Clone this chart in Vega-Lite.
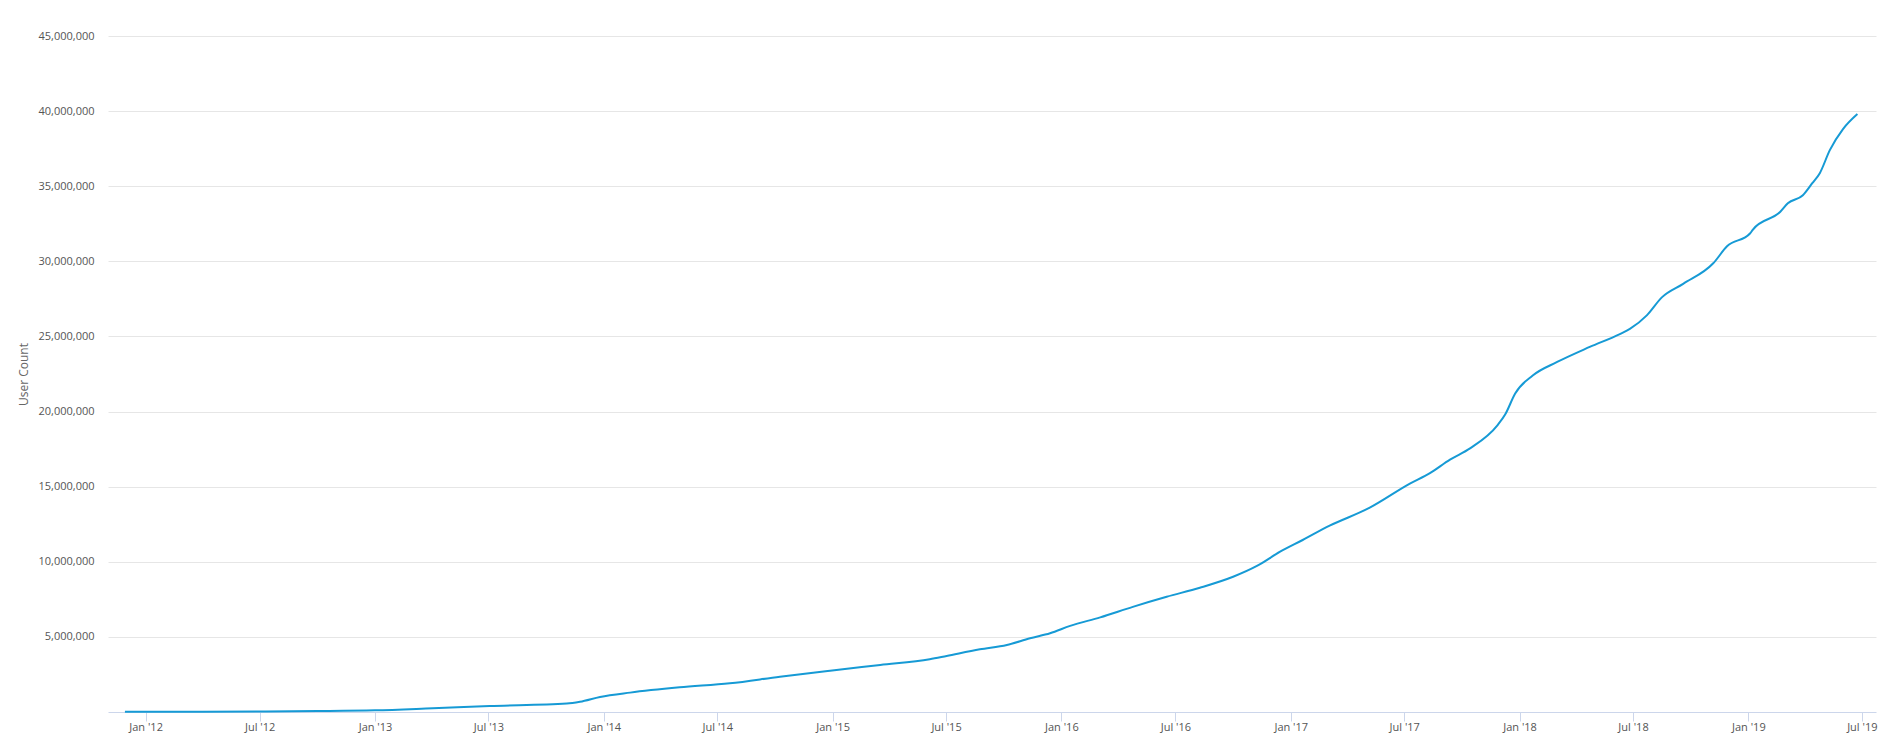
{
  "$schema": "https://vega.github.io/schema/vega-lite/v6.json",
  "autosize": {"type": "none"},
  "padding": {"left": 108, "top": 36, "right": 16, "bottom": 44},
  "width": 1768,
  "height": 676,
  "background": "#ffffff",
  "config": {"view": {"stroke": null}},
  "data": {
    "values": [
      {"date": "2011-11-29", "users": 10000},
      {"date": "2012-01-01", "users": 12000},
      {"date": "2012-04-01", "users": 20000},
      {"date": "2012-07-01", "users": 35000},
      {"date": "2012-10-01", "users": 60000},
      {"date": "2013-01-01", "users": 110000},
      {"date": "2013-04-03", "users": 250000},
      {"date": "2013-07-03", "users": 400000},
      {"date": "2013-11-03", "users": 560000},
      {"date": "2013-11-24", "users": 680000},
      {"date": "2013-12-26", "users": 1000000},
      {"date": "2014-02-12", "users": 1290000},
      {"date": "2014-05-02", "users": 1640000},
      {"date": "2014-07-21", "users": 1910000},
      {"date": "2014-10-09", "users": 2350000},
      {"date": "2014-12-28", "users": 2750000},
      {"date": "2015-03-18", "users": 3130000},
      {"date": "2015-06-05", "users": 3510000},
      {"date": "2015-07-02", "users": 3730000},
      {"date": "2015-08-24", "users": 4170000},
      {"date": "2015-10-06", "users": 4460000},
      {"date": "2015-11-12", "users": 4910000},
      {"date": "2015-12-14", "users": 5240000},
      {"date": "2016-01-15", "users": 5730000},
      {"date": "2016-03-03", "users": 6300000},
      {"date": "2016-04-24", "users": 7000000},
      {"date": "2016-06-17", "users": 7670000},
      {"date": "2016-08-09", "users": 8270000},
      {"date": "2016-10-01", "users": 9000000},
      {"date": "2016-11-08", "users": 9720000},
      {"date": "2016-12-15", "users": 10670000},
      {"date": "2017-01-20", "users": 11450000},
      {"date": "2017-03-04", "users": 12400000},
      {"date": "2017-05-07", "users": 13600000},
      {"date": "2017-07-10", "users": 15200000},
      {"date": "2017-08-11", "users": 15900000},
      {"date": "2017-09-12", "users": 16800000},
      {"date": "2017-10-14", "users": 17550000},
      {"date": "2017-11-27", "users": 19100000},
      {"date": "2017-12-09", "users": 19800000},
      {"date": "2017-12-25", "users": 21200000},
      {"date": "2018-01-22", "users": 22400000},
      {"date": "2018-03-02", "users": 23300000},
      {"date": "2018-04-23", "users": 24300000},
      {"date": "2018-06-10", "users": 25160000},
      {"date": "2018-06-26", "users": 25500000},
      {"date": "2018-07-23", "users": 26400000},
      {"date": "2018-08-16", "users": 27600000},
      {"date": "2018-09-19", "users": 28500000},
      {"date": "2018-11-06", "users": 29870000},
      {"date": "2018-11-28", "users": 31000000},
      {"date": "2019-01-04", "users": 31870000},
      {"date": "2019-01-08", "users": 32100000},
      {"date": "2019-02-21", "users": 33300000},
      {"date": "2019-03-05", "users": 33860000},
      {"date": "2019-03-29", "users": 34400000},
      {"date": "2019-04-13", "users": 35200000},
      {"date": "2019-04-25", "users": 35870000},
      {"date": "2019-05-11", "users": 37400000},
      {"date": "2019-06-01", "users": 38800000},
      {"date": "2019-06-24", "users": 39800000}
    ]
  },
  "mark": {"type": "line", "color": "#169ad5", "strokeWidth": 2, "interpolate": "monotone"},
  "encoding": {
    "x": {
      "field": "date",
      "type": "temporal",
      "scale": {
        "type": "utc",
        "domain": [
          {"year": 2011, "month": 11, "date": 2, "utc": true},
          {"year": 2019, "month": 7, "date": 23, "hours": 16, "utc": true}
        ]
      },
      "axis": {
        "title": null,
        "format": "%b '%y",
        "values": [
          {"year": 2012, "month": 1, "date": 1, "utc": true},
          {"year": 2012, "month": 7, "date": 1, "utc": true},
          {"year": 2013, "month": 1, "date": 1, "utc": true},
          {"year": 2013, "month": 7, "date": 1, "utc": true},
          {"year": 2014, "month": 1, "date": 1, "utc": true},
          {"year": 2014, "month": 7, "date": 1, "utc": true},
          {"year": 2015, "month": 1, "date": 1, "utc": true},
          {"year": 2015, "month": 7, "date": 1, "utc": true},
          {"year": 2016, "month": 1, "date": 1, "utc": true},
          {"year": 2016, "month": 7, "date": 1, "utc": true},
          {"year": 2017, "month": 1, "date": 1, "utc": true},
          {"year": 2017, "month": 7, "date": 1, "utc": true},
          {"year": 2018, "month": 1, "date": 1, "utc": true},
          {"year": 2018, "month": 7, "date": 1, "utc": true},
          {"year": 2019, "month": 1, "date": 1, "utc": true},
          {"year": 2019, "month": 7, "date": 1, "utc": true}
        ],
        "grid": false,
        "domainColor": "#ccd6eb",
        "domainWidth": 1,
        "tickColor": "#ccd6eb",
        "tickSize": 9,
        "tickWidth": 1,
        "labelPadding": 0,
        "labelFont": "Open Sans",
        "labelFontSize": 11,
        "labelColor": "#555555",
        "labelAlign": "center",
        "labelFlush": false,
        "labelOverlap": false
      }
    },
    "y": {
      "field": "users",
      "type": "quantitative",
      "scale": {"domain": [0, 45000000], "nice": false},
      "axis": {
        "title": "User Count",
        "titleFont": "Open Sans",
        "titleFontSize": 12,
        "titleFontWeight": "normal",
        "titleColor": "#666666",
        "titlePadding": 7,
        "values": [5000000, 10000000, 15000000, 20000000, 25000000, 30000000, 35000000, 40000000, 45000000],
        "format": ",d",
        "domain": false,
        "ticks": false,
        "labelPadding": 14,
        "labelFont": "Open Sans",
        "labelFontSize": 11,
        "labelColor": "#555555",
        "grid": true,
        "gridColor": "#e6e6e6",
        "gridWidth": 1
      }
    }
  }
}
